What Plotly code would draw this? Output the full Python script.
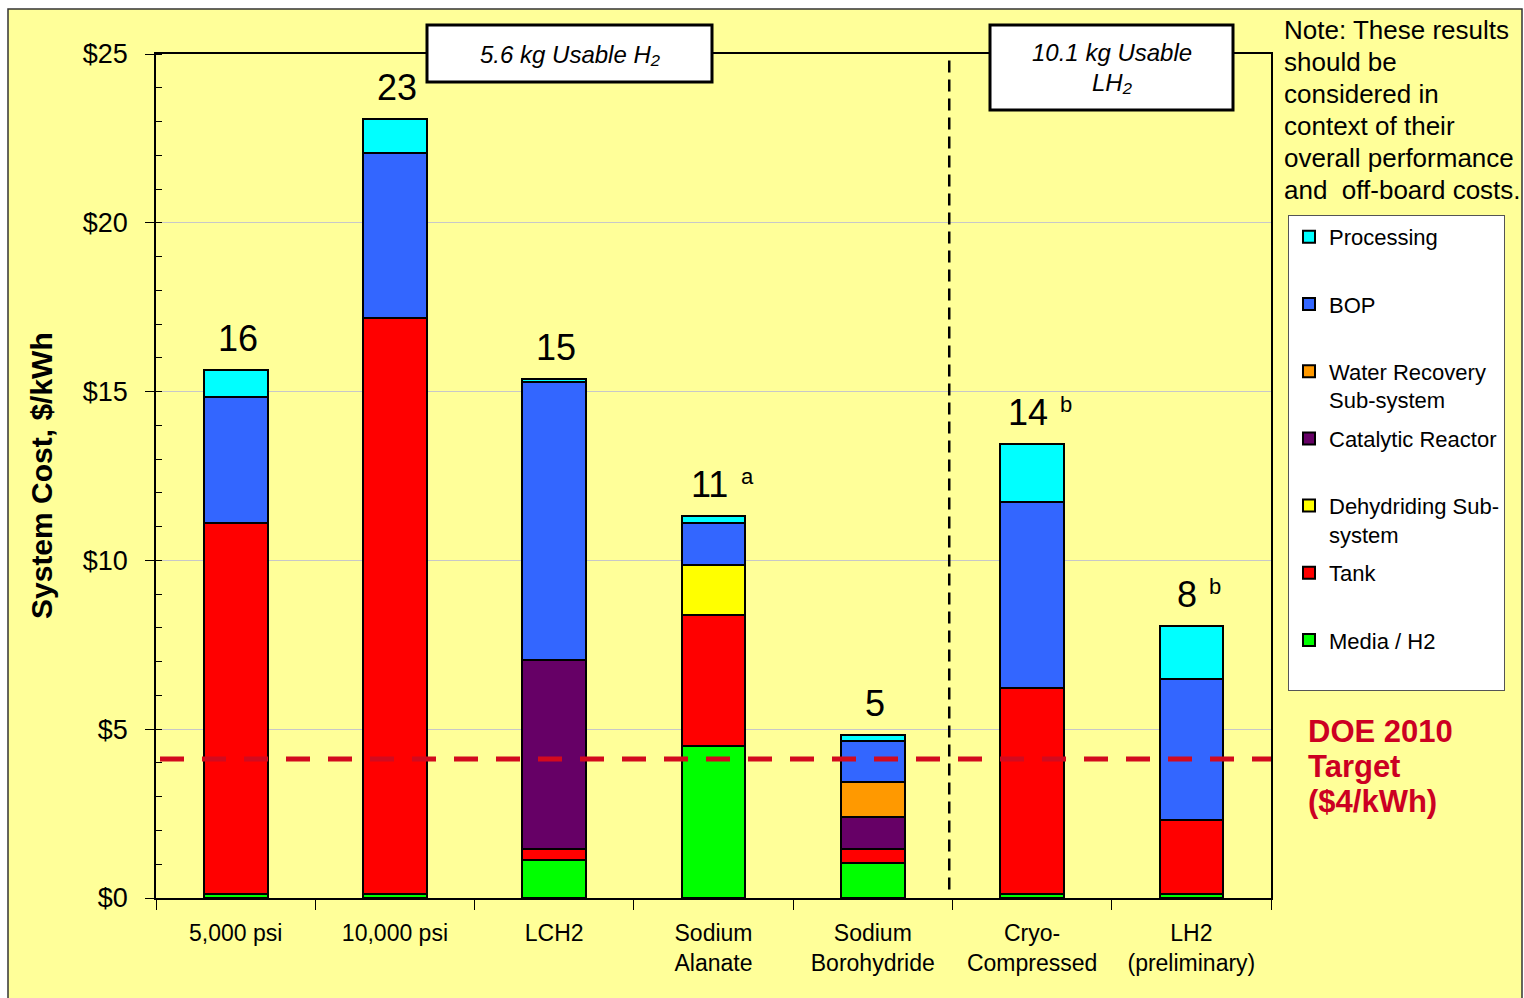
import plotly.graph_objects as go

categories = ["5,000 psi", "10,000 psi", "LCH2", "Sodium<br>Alanate", "Sodium<br>Borohydride",
              "Cryo-<br>Compressed", "LH2<br>(preliminary)"]

media_h2   = [0.12, 0.12, 1.13, 4.50, 1.04, 0.12, 0.12]
tank       = [10.99, 17.06, 0.32, 3.88, 0.41, 6.10, 2.19]
dehydriding = [None, None, None, 1.48, None, None, None]
catalytic  = [None, None, 5.60, None, 0.95, None, None]
water_rec  = [None, None, None, None, 1.04, None, None]
bop        = [3.73, 4.89, 8.23, 1.25, 1.21, 5.51, 4.18]
processing = [0.80, 1.00, 0.09, 0.21, 0.18, 1.72, 1.57]

total_labels = ["16", "23", "15", "11", "5", "14", "8"]
total_notes = ["", "", "", "a", "", "b", "b"]

doe_target = 4.12
y_ticks = [0, 5, 10, 15, 20, 25]
y_ticktext = ["$0", "$5", "$10", "$15", "$20", "$25"]

note_lines = ["Note: These results", "should be", "considered in", "context of their",
              "overall performance", "and  off-board costs."]
doe_lines = ["DOE 2010", "Target", "($4/kWh)"]

series = [
    ("Media / H2", media_h2, "#00FF00"),
    ("Tank", tank, "#FF0000"),
    ("Dehydriding Sub-<br>system", dehydriding, "#FFFF00"),
    ("Catalytic Reactor", catalytic, "#660066"),
    ("Water Recovery<br>Sub-system", water_rec, "#FF9900"),
    ("BOP", bop, "#3366FF"),
    ("Processing", processing, "#00FFFF"),
]

BG = "#FFFF99"
W, H = 1524, 998
L, R, T, B = 156, 253, 54, 100
PW, PH = W - L - R, H - T - B


def px(xp):
    return (xp - L) / PW


def py(yp):
    return (H - B - yp) / PH


fig = go.Figure()
for i, (name, vals, col) in enumerate(series):
    label = name if "<br>" in name else name + "<br> "
    fig.add_trace(go.Bar(
        x=categories, y=vals, name=label, legendgroup=f"g{i}", legendrank=100 - i,
        marker=dict(color=col, line=dict(color="black", width=2)),
        width=0.4,
    ))

totals = []
for j in range(len(categories)):
    s = 0
    for _, vals, _ in series:
        if vals[j] is not None:
            s += vals[j]
    totals.append(s)

annotations = []
for j, cat in enumerate(categories):
    shift = -4 if total_notes[j] else 2
    annotations.append(dict(x=cat, y=totals[j], text=total_labels[j], showarrow=False,
                            yanchor="bottom", yshift=9, xshift=shift,
                            font=dict(size=36, color="black")))
    if total_notes[j]:
        annotations.append(dict(x=cat, y=totals[j], text=total_notes[j], showarrow=False,
                                yanchor="bottom", yshift=25,
                                xshift=shift + len(total_labels[j]) * 10 + 18,
                                font=dict(size=22, color="black")))

# y axis title
annotations.append(dict(xref="paper", yref="paper", x=px(41), y=py(476), xanchor="center",
                        yanchor="middle", text="<b>System Cost, $/kWh</b>",
                        textangle=-90, showarrow=False, font=dict(size=30, color="black")))
# group boxes
box1 = (427, 712, 25, 82)
box2 = (990, 1233, 25, 110)
annotations.append(dict(xref="paper", yref="paper", x=px((box1[0] + box1[1]) / 2), y=py(54),
                        xanchor="center", yanchor="middle",
                        text="<i>5.6 kg Usable H₂</i>", showarrow=False,
                        font=dict(size=24, color="black")))
annotations.append(dict(xref="paper", yref="paper", x=px((box2[0] + box2[1]) / 2), y=py(53),
                        xanchor="center", yanchor="middle",
                        text="<i>10.1 kg Usable</i>", showarrow=False,
                        font=dict(size=24, color="black")))
annotations.append(dict(xref="paper", yref="paper", x=px((box2[0] + box2[1]) / 2), y=py(82),
                        xanchor="center", yanchor="middle",
                        text="<i>LH₂</i>", showarrow=False,
                        font=dict(size=24, color="black")))
# note
for k, line in enumerate(note_lines):
    annotations.append(dict(xref="paper", yref="paper", x=px(1282), y=py(30 + 32 * k),
                            xanchor="left", yanchor="middle", showarrow=False, text=line,
                            font=dict(size=26, color="black")))
# DOE target text
for k, line in enumerate(doe_lines):
    annotations.append(dict(xref="paper", yref="paper", x=px(1306), y=py(731 + 35 * k),
                            xanchor="left", yanchor="middle", showarrow=False,
                            text=f"<b>{line}</b>", font=dict(size=31, color="#CC0022")))

shapes = [
    dict(type="rect", xref="paper", yref="paper", x0=px(8), x1=px(1522), y0=py(1010), y1=py(9),
         fillcolor=BG, line=dict(color="#333333", width=1.5), layer="below"),
    dict(type="rect", xref="paper", yref="paper", x0=px(box1[0]), x1=px(box1[1]),
         y0=py(box1[3]), y1=py(box1[2]),
         fillcolor="white", line=dict(color="black", width=3), layer="above"),
    dict(type="rect", xref="paper", yref="paper", x0=px(box2[0]), x1=px(box2[1]),
         y0=py(box2[3]), y1=py(box2[2]),
         fillcolor="white", line=dict(color="black", width=3), layer="above"),
    dict(type="line", xref="paper", yref="y", x0=px(160), x1=1, y0=doe_target, y1=doe_target,
         line=dict(color="#D20A1E", width=5, dash="24px,18px"), layer="above"),
    dict(type="line", xref="x", yref="y", x0=4.48, x1=4.48, y0=0.25, y1=25,
         line=dict(color="black", width=2.5, dash="12px,7px"), layer="above"),
]

fig.update_layout(
    width=W, height=H,
    margin=dict(l=L, r=R, t=T, b=B),
    paper_bgcolor="white", plot_bgcolor=BG,
    barmode="stack", bargap=0.6,
    font=dict(family="Liberation Sans, Arial, sans-serif", color="black"),
    showlegend=True,
    legend=dict(x=px(1288), y=py(215), xanchor="left", yanchor="top",
                bgcolor="white", bordercolor="#555555", borderwidth=1,
                font=dict(size=22, color="black"), traceorder="grouped",
                tracegroupgap=7, valign="top"),
    xaxis=dict(type="category", showline=True, linecolor="black", linewidth=1.5, mirror=True,
               ticks="outside", ticklen=10, tickcolor="black", tickson="boundaries",
               ticklabelstandoff=14,
               tickfont=dict(size=23, color="black"), showgrid=False, range=[-0.5, 6.5]),
    yaxis=dict(range=[0, 25], tickvals=y_ticks, ticktext=y_ticktext, showline=True,
               linecolor="black", linewidth=1.5, mirror=True, ticks="outside", ticklen=9,
               tickcolor="black", ticklabelstandoff=12,
               tickfont=dict(size=27, color="black"), showgrid=True, gridcolor="#C8C8C8",
               gridwidth=1, zeroline=False,
               minor=dict(dtick=1, ticks="inside", ticklen=6, tickcolor="black", showgrid=False)),
    annotations=annotations,
    shapes=shapes,
)

fig.write_html("out.html")
